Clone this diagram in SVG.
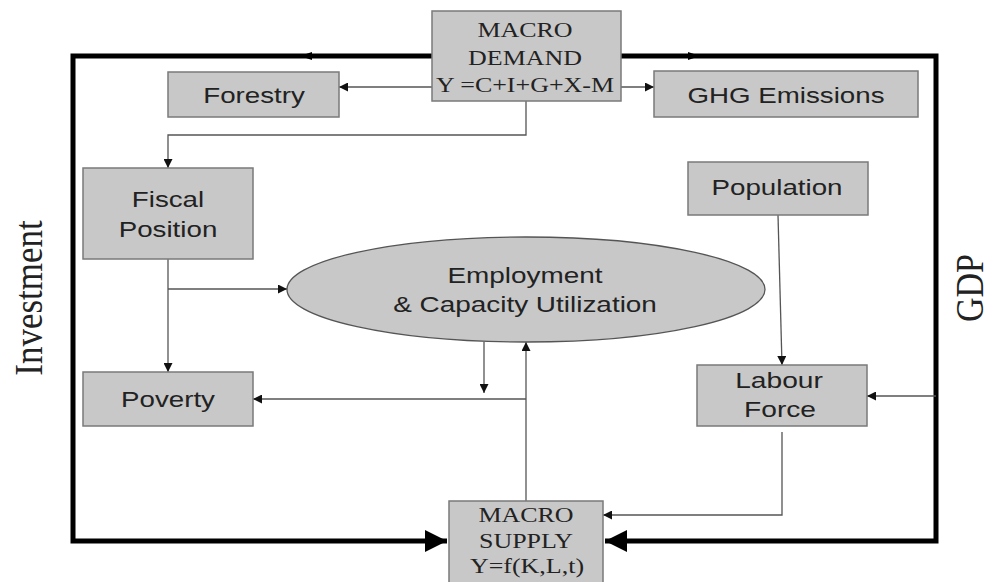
<svg xmlns="http://www.w3.org/2000/svg" width="993" height="582" viewBox="0 0 993 582">
<defs>
<marker id="a" viewBox="0 0 10 10" refX="10" refY="5" markerWidth="9" markerHeight="9" markerUnits="userSpaceOnUse" orient="auto"><path d="M0,0 L10,5 L0,10 z" fill="#111"/></marker>
<marker id="big" viewBox="0 0 10 10" refX="10" refY="5" markerWidth="25" markerHeight="22" markerUnits="userSpaceOnUse" orient="auto"><path d="M0,0 L10,5 L0,10 z" fill="#000"/></marker>
</defs>
<style>
.box{fill:#c8c8c8;stroke:#7a7a7a;stroke-width:1.5}
.sans{font-family:"Liberation Sans",Arial,sans-serif;font-size:22px;fill:#222;text-anchor:middle}
.serif{font-family:"Liberation Serif","Times New Roman",serif;font-size:22px;fill:#222;text-anchor:middle}
.thin{fill:none;stroke:#555;stroke-width:1.3}
.thick{fill:none;stroke:#000;stroke-width:5}
.side{font-family:"Liberation Serif","Times New Roman",serif;fill:#222;text-anchor:middle}
</style>
<rect width="993" height="582" fill="#fff"/>
<g id="connectors">
<path class="thick" d="M432,56 H73 V541 H447" marker-end="url(#big)"/>
<path class="thick" d="M621,56 H936 V541 H605" marker-end="url(#big)"/>
<path d="M312,52 L300,56 L312,60 z" fill="#000"/>
<path d="M688,52 L700,56 L688,60 z" fill="#000"/>
<path class="thin" d="M432,87 H339" marker-end="url(#a)"/>
<path class="thin" d="M621,87 H654" marker-end="url(#a)"/>
<path class="thin" d="M526,101 V135 H168 V168" marker-end="url(#a)"/>
<path class="thin" d="M168,259 V372" marker-end="url(#a)"/>
<path class="thin" d="M168,289 H287" marker-end="url(#a)"/>
<path class="thin" d="M484,342 V393" marker-end="url(#a)"/>
<path class="thin" d="M526,501 V342" marker-end="url(#a)"/>
<path class="thin" d="M526,399 H253" marker-end="url(#a)"/>
<path class="thin" d="M778,215 L782,365" marker-end="url(#a)"/>
<path class="thin" d="M936,396 H867" marker-end="url(#a)"/>
<path class="thin" d="M782,432 V515 H603" marker-end="url(#a)"/>
</g>
<g id="macro-demand">
<rect class="box" x="432" y="11" width="189" height="90"/>
<text class="serif" transform="translate(525,37) scale(1.18,1)">MACRO</text>
<text class="serif" transform="translate(525,65) scale(1.18,1)">DEMAND</text>
<text class="serif" transform="translate(525,92) scale(1.18,1)">Y =C+I+G+X-M</text>
</g>
<g id="forestry">
<rect class="box" x="168" y="72" width="171" height="45"/>
<text class="sans" transform="translate(254,103) scale(1.26,1)">Forestry</text>
</g>
<g id="ghg">
<rect class="box" x="654" y="71" width="264" height="46"/>
<text class="sans" transform="translate(786,103) scale(1.26,1)">GHG Emissions</text>
</g>
<g id="fiscal">
<rect class="box" x="83" y="168" width="170" height="91"/>
<text class="sans" transform="translate(168,207) scale(1.26,1)">Fiscal</text>
<text class="sans" transform="translate(168,237) scale(1.26,1)">Position</text>
</g>
<g id="employment">
<ellipse cx="526" cy="289.5" rx="239" ry="52.5" fill="#c8c8c8" stroke="#555" stroke-width="1.3"/>
<text class="sans" transform="translate(525,283) scale(1.27,1)">Employment</text>
<text class="sans" transform="translate(525,312) scale(1.27,1)">&amp; Capacity Utilization</text>
</g>
<g id="population">
<rect class="box" x="688" y="162" width="180" height="53"/>
<text class="sans" transform="translate(777,195) scale(1.26,1)">Population</text>
</g>
<g id="poverty">
<rect class="box" x="83" y="372" width="170" height="54"/>
<text class="sans" transform="translate(168,407) scale(1.26,1)">Poverty</text>
</g>
<g id="labour">
<rect class="box" x="697" y="365" width="170" height="61"/>
<text class="sans" transform="translate(779,388) scale(1.28,1)">Labour</text>
<text class="sans" transform="translate(780,417) scale(1.28,1)">Force</text>
</g>
<g id="macro-supply">
<rect class="box" x="449" y="501" width="154" height="90"/>
<text class="serif" transform="translate(526,522) scale(1.18,1)">MACRO</text>
<text class="serif" transform="translate(526,548) scale(1.18,1)">SUPPLY</text>
<text class="serif" transform="translate(527,573) scale(1.18,1)">Y=f(K,L,t)</text>
</g>
<g id="labels">
<text class="side" font-size="35" transform="translate(42,298) scale(1.15,1) rotate(-90)">Investment</text>
<text class="side" font-size="34" transform="translate(983,288) scale(1.15,1) rotate(-90)">GDP</text>
</g>
</svg>
